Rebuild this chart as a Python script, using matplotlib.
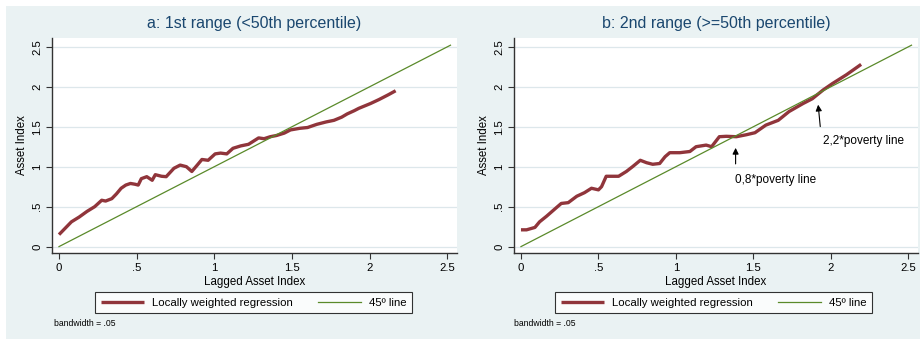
import matplotlib
matplotlib.use("Agg")
import matplotlib.pyplot as plt
from matplotlib.patches import Rectangle

plt.rcParams["font.family"] = ["Liberation Sans", "DejaVu Sans"]

# panel a: locally weighted regression (<50th percentile)
xa = [0.0, 0.04, 0.08, 0.13, 0.18, 0.23, 0.275, 0.30, 0.34, 0.37, 0.40, 0.43,
      0.46, 0.49, 0.51, 0.53, 0.565, 0.60, 0.62, 0.66, 0.69, 0.74, 0.78, 0.82,
      0.855, 0.89, 0.92, 0.96, 1.005, 1.04, 1.08, 1.12, 1.17, 1.22, 1.285,
      1.32, 1.36, 1.40, 1.45, 1.49, 1.55, 1.60, 1.66, 1.72, 1.77, 1.82, 1.855,
      1.90, 1.93, 2.005, 2.06, 2.12, 2.167]
ya = [0.15, 0.23, 0.31, 0.37, 0.44, 0.50, 0.58, 0.57, 0.60, 0.66, 0.73, 0.77,
      0.79, 0.78, 0.77, 0.85, 0.875, 0.83, 0.90, 0.88, 0.875, 0.98, 1.02, 1.00,
      0.94, 1.02, 1.09, 1.08, 1.16, 1.17, 1.16, 1.23, 1.26, 1.28, 1.36, 1.35,
      1.375, 1.39, 1.42, 1.46, 1.48, 1.49, 1.53, 1.56, 1.58, 1.62, 1.66, 1.70,
      1.73, 1.79, 1.84, 1.90, 1.95]

# panel b: locally weighted regression (>=50th percentile)
xb = [0.0, 0.036, 0.09, 0.12, 0.165, 0.23, 0.26, 0.305, 0.36, 0.41, 0.455,
      0.50, 0.52, 0.55, 0.595, 0.63, 0.68, 0.72, 0.77, 0.81, 0.85, 0.895, 0.93,
      0.96, 1.025, 1.09, 1.13, 1.195, 1.23, 1.28, 1.325, 1.39, 1.455, 1.51,
      1.58, 1.66, 1.73, 1.82, 1.88, 1.95, 2.01, 2.10, 2.195]
yb = [0.21, 0.21, 0.24, 0.31, 0.38, 0.49, 0.54, 0.55, 0.63, 0.675, 0.73, 0.71,
      0.75, 0.88, 0.88, 0.88, 0.94, 1.00, 1.08, 1.05, 1.03, 1.04, 1.125, 1.175,
      1.175, 1.19, 1.25, 1.27, 1.25, 1.375, 1.38, 1.375, 1.40, 1.425, 1.52,
      1.58, 1.69, 1.79, 1.85, 1.96, 2.04, 2.15, 2.28]

diag = [0.0, 2.52]
ticks = [0, 0.5, 1, 1.5, 2, 2.5]
tick_labels = ["0", ".5", "1", "1.5", "2", "2.5"]
titles = ["a: 1st range (<50th percentile)", "b: 2nd range (>=50th percentile)"]

BG = "#eaf2f3"
RED = "#90353b"
GREEN = "#5a8a2a"
NAVY = "#1a476f"
W, H = 924, 339

fig = plt.figure(figsize=(W / 100, H / 100), dpi=100)
fig.patch.set_facecolor("white")
fig.patches.append(Rectangle((6 / W, 0), 454 / W, 1 - 6 / H, transform=fig.transFigure,
                             facecolor=BG, edgecolor="none", zorder=-10))
fig.patches.append(Rectangle((460 / W, 0), 460 / W, 1 - 6 / H, transform=fig.transFigure,
                             facecolor=BG, edgecolor="none", zorder=-10))

panels = [(52, 457, xa, ya, 0), (514, 918, xb, yb, 460)]
for i, (l, r, xs, ys, off) in enumerate(panels):
    ax = fig.add_axes([l / W, (H - 253) / H, (r - l) / W, (253 - 38) / H])
    ax.set_facecolor("white")
    ax.set_xlim(-0.045, 2.562)
    ax.set_ylim(-0.08, 2.61)
    for y in ticks:
        ax.axhline(y, color="#dde7eb", lw=0.9, zorder=0)
    ln1, = ax.plot(xs, ys, color=RED, lw=2.4, solid_capstyle="butt", zorder=3)
    ln2, = ax.plot(diag, diag, color=GREEN, lw=0.9, zorder=4)
    for s in ["top", "right"]:
        ax.spines[s].set_visible(False)
    for s in ["left", "bottom"]:
        ax.spines[s].set_color("#333333")
        ax.spines[s].set_linewidth(1.0)
    ax.set_xticks(ticks)
    ax.set_xticklabels(tick_labels)
    ax.set_yticks(ticks)
    ax.set_yticklabels(tick_labels, rotation=90, va="center")
    ax.tick_params(direction="out", length=4, width=0.8, color="#333333",
                   labelsize=8.2, pad=3)
    ax.set_xlabel("Lagged Asset Index", fontsize=8.3, labelpad=2)
    ax.set_ylabel("Asset Index", fontsize=8.3, labelpad=3)
    ax.set_title(titles[i], fontsize=11.5, color=NAVY, pad=7)
    leg = ax.legend([ln1, ln2], ["Locally weighted regression", "45º line"],
                    ncol=2, loc="center", fontsize=8.2, frameon=True, fancybox=False,
                    handlelength=3.8, columnspacing=2.2, handletextpad=0.7,
                    borderpad=0.45, borderaxespad=0,
                    bbox_to_anchor=((off + 253.5) / W, 1 - 302.5 / H),
                    bbox_transform=fig.transFigure)
    leg.get_frame().set_edgecolor("black")
    leg.get_frame().set_linewidth(0.8)
    fig.text((off + 54) / W, 1 - 323 / H, "bandwidth = .05", fontsize=6.2,
             va="center", ha="left")
    if i == 1:
        ax.annotate("", xy=(1.385, 1.27), xytext=(1.385, 1.0),
                    arrowprops=dict(arrowstyle="-|>", color="black", lw=0.8,
                                    mutation_scale=9))
        ax.text(1.38, 0.83, "0,8*poverty line", fontsize=8.5, va="center", ha="left")
        ax.annotate("", xy=(1.916, 1.81), xytext=(1.933, 1.467),
                    arrowprops=dict(arrowstyle="-|>", color="black", lw=0.8,
                                    mutation_scale=9))
        ax.text(1.95, 1.32, "2,2*poverty line", fontsize=8.5, va="center", ha="left")

fig.savefig("out.png", dpi=100, facecolor=fig.get_facecolor())
